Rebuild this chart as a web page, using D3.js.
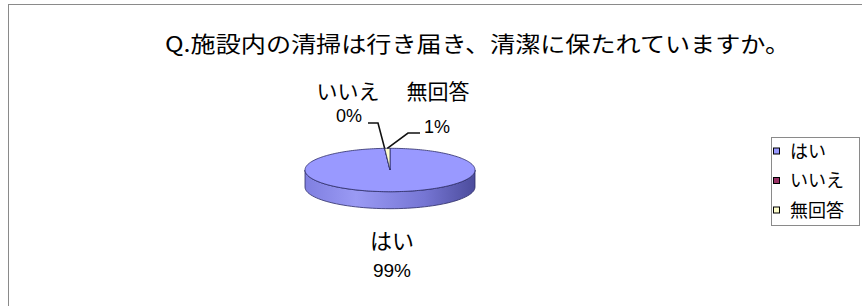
<!DOCTYPE html>
<html>
<head>
<meta charset="utf-8">
<script src="https://cdn.jsdelivr.net/npm/d3@7"></script>
<style>
  body { margin: 0; background: #fff; }
  text { font-family: "Noto Sans CJK JP", "Liberation Sans", sans-serif; fill: #000; }
  .num { font-family: "Liberation Sans", Arial, sans-serif; }
</style>
</head>
<body>
<svg id="chart" width="862" height="306"></svg>
<script>
// data
const title = 'Q.施設内の清掃は行き届き、清潔に保たれていますか。';
const categories = ['はい', 'いいえ', '無回答'];
const values = [99, 0, 1];
const colors = ['#9999FF', '#993366', '#FFFFCC'];

const svg = d3.select('#chart');

// chart frame (cut off on the right and bottom)
svg.append('rect')
  .attr('x', 8.5).attr('y', 4.5)
  .attr('width', 900).attr('height', 400)
  .attr('fill', '#fff')
  .attr('stroke', '#8a8a8a');

// title
svg.append('text')
  .attr('x', 165).attr('y', 52)
  .attr('font-size', 22)
  .attr('textLength', 625)
  .attr('lengthAdjust', 'spacingAndGlyphs')
  .text(title);

// pie geometry
const cx = 390, cy = 170, rx = 85, ry = 21.7, depth = 17;
const color = d3.scaleOrdinal().domain(categories).range(colors);
const pie = d3.pie().sort(null).value(d => d.value);
const arcs = pie(categories.map((c, i) => ({ name: c, value: values[i] })));

const px = a => cx + rx * Math.sin(a);
const py = a => cy - ry * Math.cos(a);

const defs = svg.append('defs');
const grad = defs.append('linearGradient')
  .attr('id', 'side').attr('x1', 0).attr('x2', 1).attr('y1', 0).attr('y2', 0);
grad.append('stop').attr('offset', '0%').attr('stop-color', '#7f7fe0');
grad.append('stop').attr('offset', '30%').attr('stop-color', '#9a9af4');
grad.append('stop').attr('offset', '70%').attr('stop-color', '#7676d4');
grad.append('stop').attr('offset', '100%').attr('stop-color', '#4c4c9c');

const steps = 60;
function sidePath(a0, a1) {
  const s = Math.max(a0, Math.PI / 2), e = Math.min(a1, 3 * Math.PI / 2);
  if (s >= e) return null;
  const p = d3.path();
  for (let i = 0; i <= steps; i++) {
    const a = s + (e - s) * i / steps;
    i === 0 ? p.moveTo(px(a), py(a)) : p.lineTo(px(a), py(a));
  }
  for (let i = steps; i >= 0; i--) {
    const a = s + (e - s) * i / steps;
    p.lineTo(px(a), py(a) + depth);
  }
  p.closePath();
  return p.toString();
}
function topPath(a0, a1) {
  const p = d3.path();
  p.moveTo(cx, cy);
  const n = Math.max(2, Math.ceil(steps * 2 * (a1 - a0) / Math.PI));
  for (let i = 0; i <= n; i++) {
    const a = a0 + (a1 - a0) * i / n;
    p.lineTo(px(a), py(a));
  }
  p.closePath();
  return p.toString();
}

// side walls
svg.append('g').selectAll('path')
  .data(arcs.filter(d => sidePath(d.startAngle, d.endAngle)))
  .join('path')
    .attr('d', d => sidePath(d.startAngle, d.endAngle))
    .attr('fill', d => d.index === 0 ? 'url(#side)' : d3.color(color(d.data.name)).darker(0.6))
    .attr('stroke', '#2c2c66')
    .attr('stroke-width', 0.8);

// top faces
svg.append('g').selectAll('path')
  .data(arcs)
  .join('path')
    .attr('d', d => topPath(d.startAngle, d.endAngle))
    .attr('fill', d => color(d.data.name))
    .attr('stroke', '#2c2c66')
    .attr('stroke-width', 0.8)
    .attr('stroke-linejoin', 'round');

// data labels
const leader = d => {
  const a = (d.startAngle + d.endAngle) / 2;
  return [px(a), py(a)];
};
const labelDefs = [
  { i: 1, name: { x: 348, y: 99 }, pct: { x: 349, y: 122 }, line: [[368, 123], [378, 123]] },
  { i: 2, name: { x: 438, y: 99 }, pct: { x: 437, y: 133 }, line: [[420, 133], [408, 133]] }
];
labelDefs.forEach(l => {
  const d = arcs[l.i];
  svg.append('path')
    .attr('d', d3.line()([...l.line, leader(d)]))
    .attr('fill', 'none')
    .attr('stroke', '#111')
    .attr('stroke-width', 1.6);
  svg.append('text')
    .attr('x', l.name.x).attr('y', l.name.y)
    .attr('text-anchor', 'middle')
    .attr('font-size', 21)
    .text(d.data.name);
  svg.append('text').attr('class', 'num')
    .attr('x', l.pct.x).attr('y', l.pct.y)
    .attr('text-anchor', 'middle')
    .attr('font-size', 18)
    .text(d.data.value + '%');
});
svg.append('text')
  .attr('x', 392).attr('y', 249)
  .attr('text-anchor', 'middle')
  .attr('font-size', 22)
  .text(arcs[0].data.name);
svg.append('text').attr('class', 'num')
  .attr('x', 392).attr('y', 277)
  .attr('text-anchor', 'middle')
  .attr('font-size', 19)
  .text(arcs[0].data.value + '%');

// legend
const legend = svg.append('g');
legend.append('rect')
  .attr('x', 771.5).attr('y', 137.5)
  .attr('width', 88).attr('height', 88)
  .attr('fill', '#fff')
  .attr('stroke', '#8a8a8a');
const item = legend.selectAll('g.item')
  .data(categories)
  .join('g')
    .attr('class', 'item')
    .attr('transform', (d, i) => `translate(773,${151 + i * 29.5})`);
item.append('rect')
  .attr('x', 0.5).attr('y', -3)
  .attr('width', 6).attr('height', 6)
  .attr('fill', d => color(d))
  .attr('stroke', '#000')
  .attr('stroke-width', 1);
item.append('text')
  .attr('x', 17).attr('y', 6.5)
  .attr('font-size', 18)
  .text(d => d);
</script>
</body>
</html>
